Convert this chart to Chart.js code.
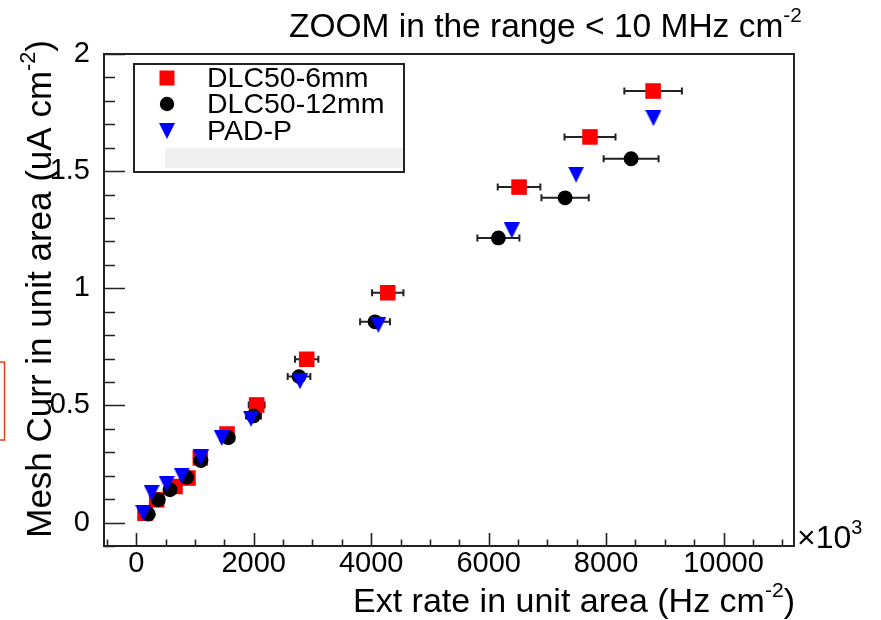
<!DOCTYPE html>
<html>
<head>
<meta charset="utf-8">
<script src="https://cdn.jsdelivr.net/npm/chart.js@4.4.1/dist/chart.umd.min.js"></script>
<style>
  body { margin: 0; background: #fff; }
  #wrap { width: 881px; height: 620px; }
</style>
</head>
<body>
<div id="wrap"><canvas id="c" width="881" height="620"></canvas></div>
<script>
const FONT = "'Liberation Sans', Arial, Helvetica, sans-serif";

// data (x in Hz cm^-2, y in uA cm^-2)
const seriesNames = ["DLC50-6mm", "DLC50-12mm", "PAD-P"];

const dlc6X = [148, 347, 659, 880, 1090, 1545, 2050, 2902, 4282, 6518, 7726, 8801];
const dlc6Y = [0.040, 0.097, 0.154, 0.190, 0.276, 0.378, 0.502, 0.697, 0.981, 1.432, 1.646, 1.842];
const dlc6Err = [10, 23, 43, 57, 70, 100, 135, 199, 267, 363, 434, 490];

const dlc12X = [205, 375, 574, 858, 1100, 1567, 1995, 2771, 4066, 6166, 7302, 8426];
const dlc12Y = [0.036, 0.097, 0.140, 0.194, 0.265, 0.362, 0.455, 0.623, 0.857, 1.215, 1.386, 1.553];
const dlc12Err = [13, 25, 37, 55, 70, 100, 128, 193, 255, 358, 403, 468];

const padX = [119, 262, 517, 773, 1097, 1455, 1954, 2788, 4122, 6394, 7489, 8806];
const padY = [0.041, 0.127, 0.165, 0.200, 0.278, 0.361, 0.443, 0.603, 0.844, 1.247, 1.485, 1.726];

const xTicks = [0, 2000, 4000, 6000, 8000, 10000];
const yTicks = [0, 0.5, 1, 1.5, 2];
const yTickLabels = ["0", "0.5", "1", "1.5", "2"];

const toPoints = (xs, ys) => xs.map((x, i) => ({ x: x, y: ys[i] }));

function downTriangle(size, color) {
  const c = document.createElement("canvas");
  c.width = size;
  c.height = size;
  const g = c.getContext("2d");
  g.fillStyle = color;
  g.beginPath();
  g.moveTo(0, 0);
  g.lineTo(size, 0);
  g.lineTo(size / 2, size);
  g.closePath();
  g.fill();
  return c;
}
const triImg = downTriangle(16, "#0000ff");

// text with superscripts: parts = [[text, isSup], ...]
function richWidth(ctx, parts, size) {
  let w = 0;
  for (const [t, sup] of parts) {
    ctx.font = (sup ? size * 0.62 : size) + "px " + FONT;
    w += ctx.measureText(t).width;
  }
  return w;
}
function drawRich(ctx, parts, x, y, size, align) {
  let cx = align === "right" ? x - richWidth(ctx, parts, size) : x;
  ctx.textAlign = "left";
  ctx.textBaseline = "alphabetic";
  ctx.fillStyle = "#000";
  for (const [t, sup] of parts) {
    ctx.font = (sup ? size * 0.62 : size) + "px " + FONT;
    ctx.fillText(t, cx, sup ? y - size * 0.45 : y);
    cx += ctx.measureText(t).width;
  }
}

const extras = {
  id: "extras",
  beforeDatasetsDraw(chart) {
    const ctx = chart.ctx;
    const xs = chart.scales.x, ys = chart.scales.y;
    const a = chart.chartArea;
    ctx.save();
    // ticks
    ctx.strokeStyle = "#222";
    ctx.lineWidth = 1.6;
    ctx.beginPath();
    for (let v = -500; v <= 11000; v += 500) {
      const px = Math.round(xs.getPixelForValue(v)) + 0.5;
      const len = v % 2000 === 0 ? 13 : 6.5;
      ctx.moveTo(px, a.bottom);
      ctx.lineTo(px, a.bottom - len);
    }
    for (let k = -1; k <= 20; k++) {
      const py = Math.round(ys.getPixelForValue(k / 10)) + 0.5;
      const len = k % 5 === 0 ? 21 : 11;
      ctx.moveTo(a.left, py);
      ctx.lineTo(a.left + len, py);
    }
    ctx.stroke();
    // frame
    ctx.lineWidth = 2;
    ctx.strokeStyle = "#222";
    ctx.strokeRect(a.left, a.top, a.right - a.left, a.bottom - a.top);
    // horizontal error bars
    ctx.lineWidth = 2;
    ctx.strokeStyle = "#222";
    const bars = [[dlc6X, dlc6Y, dlc6Err], [dlc12X, dlc12Y, dlc12Err]];
    ctx.beginPath();
    for (const [bx, by, be] of bars) {
      bx.forEach((x, i) => {
        const x0 = xs.getPixelForValue(x - be[i]);
        const x1 = xs.getPixelForValue(x + be[i]);
        const py = ys.getPixelForValue(by[i]);
        ctx.moveTo(x0, py); ctx.lineTo(x1, py);
        ctx.moveTo(x0, py - 3.5); ctx.lineTo(x0, py + 3.5);
        ctx.moveTo(x1, py - 3.5); ctx.lineTo(x1, py + 3.5);
      });
    }
    ctx.stroke();
    ctx.restore();
  },
  afterDraw(chart) {
    const ctx = chart.ctx;
    ctx.save();
    // title
    drawRich(ctx, [["ZOOM in the range < 10 MHz cm", false], ["-2", true]], 289, 37, 33.5, "left");
    // axis titles
    drawRich(ctx, [["Ext rate in unit area (Hz cm", false], ["-2", true], [")", false]], 795, 612, 34, "right");
    ctx.save();
    ctx.translate(51, 40);
    ctx.rotate(-Math.PI / 2);
    drawRich(ctx, [["Mesh Curr in unit area (uA cm", false], ["-2", true], [")", false]], 0, 0, 35, "right");
    ctx.restore();
    // x10^3 multiplier
    drawRich(ctx, [["\u00d710", false], ["3", true]], 797, 548, 32, "left");

    // legend box
    const lx = 134, ly = 64, lw = 270, lh = 108;
    ctx.fillStyle = "#fff";
    ctx.fillRect(lx, ly, lw, lh);
    ctx.fillStyle = "#efefef";
    ctx.fillRect(165, 148, 239, 20);
    ctx.lineWidth = 2;
    ctx.strokeStyle = "#222";
    ctx.strokeRect(lx, ly, lw, lh);
    const rows = [78, 104, 131];
    chart.data.datasets.forEach((ds, i) => {
      const y = rows[i];
      if (i === 0) {
        ctx.fillStyle = ds.backgroundColor;
        ctx.fillRect(167 - 7.5, y - 7.5, 15, 15);
      } else if (i === 1) {
        ctx.fillStyle = ds.backgroundColor;
        ctx.beginPath();
        ctx.arc(167, y, 7.2, 0, Math.PI * 2);
        ctx.fill();
      } else {
        ctx.drawImage(triImg, 167 - 8, y - 8);
      }
      ctx.fillStyle = "#000";
      ctx.font = "28.5px " + FONT;
      ctx.textAlign = "left";
      ctx.textBaseline = "middle";
      ctx.fillText(ds.label, 207, y + 1);
    });

    // red marker box at the left edge
    ctx.strokeStyle = "#e8401c";
    ctx.lineWidth = 1.5;
    ctx.beginPath();
    ctx.moveTo(0, 362); ctx.lineTo(4.5, 362); ctx.lineTo(4.5, 440); ctx.lineTo(0, 440);
    ctx.stroke();
    ctx.restore();
  }
};

new Chart(document.getElementById("c"), {
  type: "scatter",
  data: {
    datasets: [
      {
        label: seriesNames[0],
        data: toPoints(dlc6X, dlc6Y),
        pointStyle: "rect",
        pointRadius: 11,
        backgroundColor: "#ff0000",
        borderWidth: 0,
        order: 3
      },
      {
        label: seriesNames[1],
        data: toPoints(dlc12X, dlc12Y),
        pointStyle: "circle",
        pointRadius: 7.4,
        backgroundColor: "#000000",
        borderWidth: 0,
        order: 2
      },
      {
        label: seriesNames[2],
        data: toPoints(padX, padY),
        pointStyle: triImg,
        pointRadius: 8,
        backgroundColor: "#0000ff",
        borderWidth: 0,
        order: 1
      }
    ]
  },
  options: {
    responsive: false,
    animation: false,
    devicePixelRatio: 1,
    layout: { padding: { top: 54, right: 87, left: 0, bottom: 0 } },
    plugins: { legend: { display: false }, tooltip: { enabled: false } },
    scales: {
      x: {
        type: "linear",
        min: -550,
        max: 11200,
        afterBuildTicks: (s) => { s.ticks = xTicks.map((v) => ({ value: v })); },
        afterFit: (s) => { s.height = 74; },
        grid: { display: false },
        border: { display: false },
        ticks: {
          color: "#000",
          font: { family: FONT, size: 29 },
          padding: -7,
          maxRotation: 0,
          autoSkip: false,
          callback: (v) => String(v)
        }
      },
      y: {
        type: "linear",
        min: -0.1,
        max: 2,
        afterBuildTicks: (s) => { s.ticks = yTicks.map((v) => ({ value: v })); },
        afterFit: (s) => { s.width = 104; },
        grid: { display: false },
        border: { display: false },
        ticks: {
          color: "#000",
          font: { family: FONT, size: 29 },
          padding: 6,
          autoSkip: false,
          callback: (v, i) => yTickLabels[i]
        }
      }
    }
  },
  plugins: [extras]
});
</script>
</body>
</html>
